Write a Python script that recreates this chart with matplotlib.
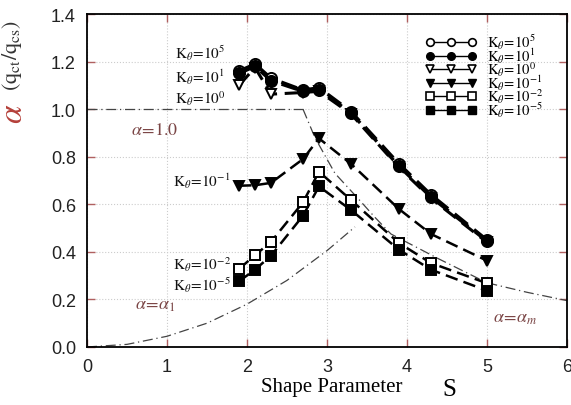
import matplotlib
matplotlib.use("Agg")
import matplotlib.pyplot as plt
from matplotlib.lines import Line2D

plt.rcParams['mathtext.fontset'] = 'stix'
plt.rcParams['font.family'] = ['Liberation Sans', 'DejaVu Sans']

# shape parameter values where the solutions were computed
S = [1.9, 2.1, 2.3, 2.7, 2.9, 3.3, 3.9, 4.3, 5.0]

# alpha values, one list per K_theta
k_1e5 = [1.16, 1.19, 1.13, 1.08, 1.09, 0.99, 0.77, 0.64, 0.45]
k_1e1 = [1.15, 1.18, 1.12, 1.075, 1.08, 0.985, 0.76, 0.63, 0.445]
k_1e0 = [1.10, 1.175, 1.063, 1.07, 1.075, 0.98, 0.755, 0.625, 0.44]
k_1em1 = [0.678, 0.68, 0.69, 0.79, 0.877, 0.77, 0.58, 0.475, 0.363]
k_1em2 = [0.328, 0.386, 0.442, 0.608, 0.737, 0.618, 0.437, 0.353, 0.268]
k_1em5 = [0.276, 0.325, 0.384, 0.552, 0.675, 0.576, 0.409, 0.325, 0.237]

# reference curves (dash-dot)
S_one = [0.0, 2.7]
alpha_one = [1.0, 1.0]
S_m = [2.7, 2.85, 3.1, 3.4, 3.6, 3.8, 4.4, 5.0, 5.5, 6.0]
alpha_m = [1.0, 0.88, 0.73, 0.62, 0.545, 0.475, 0.37, 0.27, 0.23, 0.195]
S_1 = [0.0, 0.5, 1.0, 1.5, 2.0, 2.5, 3.0, 3.35]
alpha_1 = [0.0, 0.011, 0.045, 0.10, 0.18, 0.28, 0.405, 0.505]

legend_labels = [r'$\mathrm{K}_{\theta}\!=\!10^{5}$', r'$\mathrm{K}_{\theta}\!=\!10^{1}$',
                 r'$\mathrm{K}_{\theta}\!=\!10^{0}$', r'$\mathrm{K}_{\theta}\!=\!10^{-1}$',
                 r'$\mathrm{K}_{\theta}\!=\!10^{-2}$', r'$\mathrm{K}_{\theta}\!=\!10^{-5}$']

fig = plt.figure(figsize=(5.71, 4.06), dpi=100)
ax = fig.add_axes([0.1524, 0.1429, 0.8405, 0.8201])

dd = (8, 3, 1, 3)
ax.plot(S_one, alpha_one, color='#444444', lw=0.9, dashes=dd)
ax.plot(S_m, alpha_m, color='#444444', lw=0.9, dashes=dd)
ax.plot(S_1, alpha_1, color='#444444', lw=0.9, dashes=dd)

# (values, marker, filled, line width)
series = [
    (k_1e0, 'v', False, 2.2),
    (k_1e5, 'o', False, 2.4),
    (k_1e1, 'o', True, 2.4),
    (k_1em1, 'v', True, 1.8),
    (k_1em2, 's', False, 1.8),
    (k_1em5, 's', True, 1.8),
]
for vals, mk, filled, lw in series:
    ax.plot(S, vals, color='black', lw=lw, dashes=(5, 2.5), marker=mk,
            ms=8 if mk == 'o' else 7, mfc='black' if filled else 'white',
            mec='black', mew=1.4)

handles = [
    Line2D([], [], color='black', lw=1.0, marker='o', ms=5.5, mfc='white', mec='black', mew=1.2),
    Line2D([], [], color='black', lw=1.0, marker='o', ms=5.5, mfc='black', mec='black'),
    Line2D([], [], color='black', lw=1.0, marker='v', ms=5.5, mfc='white', mec='black', mew=1.2),
    Line2D([], [], color='black', lw=1.0, marker='v', ms=5.5, mfc='black', mec='black'),
    Line2D([], [], color='black', lw=1.0, marker='s', ms=5.5, mfc='white', mec='black', mew=1.2),
    Line2D([], [], color='black', lw=1.0, marker='s', ms=5.5, mfc='black', mec='black'),
]
ax.legend(handles, legend_labels, loc='upper left', bbox_to_anchor=(0.69, 0.968),
          frameon=False, numpoints=3, handlelength=3.5, handletextpad=0.7,
          labelspacing=-0.38, fontsize=10.5, borderpad=0)

# curve labels
lab = dict(fontsize=11, color='#111111', ha='left', va='center')
ax.text(1.1, 1.24, r'$\mathrm{K}_{\theta}\!=\!10^{5}$', **lab)
ax.text(1.1, 1.14, r'$\mathrm{K}_{\theta}\!=\!10^{1}$', **lab)
ax.text(1.1, 1.05, r'$\mathrm{K}_{\theta}\!=\!10^{0}$', **lab)
ax.text(1.07, 0.70, r'$\mathrm{K}_{\theta}\!=\!10^{-1}$', **lab)
ax.text(1.07, 0.35, r'$\mathrm{K}_{\theta}\!=\!10^{-2}$', **lab)
ax.text(1.07, 0.265, r'$\mathrm{K}_{\theta}\!=\!10^{-5}$', **lab)

ref = dict(fontsize=13, color='#7a4545', ha='left', va='center')
ax.text(0.55, 0.915, r'$\alpha\!=\!\mathit{1.0}$', **ref)
ax.text(0.6, 0.18, r'$\alpha\!=\!\alpha_{1}$', **ref)
ax.text(5.08, 0.125, r'$\alpha\!=\!\alpha_{m}$', **ref)

ax.set_xlim(0, 6)
ax.set_ylim(0, 1.4)
ax.set_xticks(range(0, 7))
ax.set_yticks([0.0, 0.2, 0.4, 0.6, 0.8, 1.0, 1.2, 1.4])
ax.set_yticklabels(['0.0', '0.2', '0.4', '0.6', '0.8', '1.0', '1.2', '1.4'])
ax.grid(True, color='#cccccc', linestyle=':', lw=0.8)
ax.tick_params(direction='in', top=True, right=True, length=6, width=1,
               color='#b06060', labelsize=13, labelcolor='#222222', pad=8)
for sp in ax.spines.values():
    sp.set_linewidth(1.3)

fig.text(332 / 571, 1 - 388 / 406, 'Shape Parameter', family='Liberation Serif',
         fontsize=15, ha='center', va='center')
fig.text(449 / 571, 1 - 390 / 406, 'S', family='Liberation Serif',
         fontsize=18, ha='center', va='center')

fig.text(14 / 571, 1 - 114 / 406, r'$\alpha$', color='#b5403a', fontsize=24,
         rotation=90, ha='center', va='center')
fig.text(12 / 571, 1 - 55 / 406, r'$(\mathrm{q}_{\mathrm{ct}}/\mathrm{q}_{\mathrm{cs}})$',
         color='#333333', fontsize=16, rotation=90, ha='center', va='center')

fig.savefig('out.png', dpi=100)
